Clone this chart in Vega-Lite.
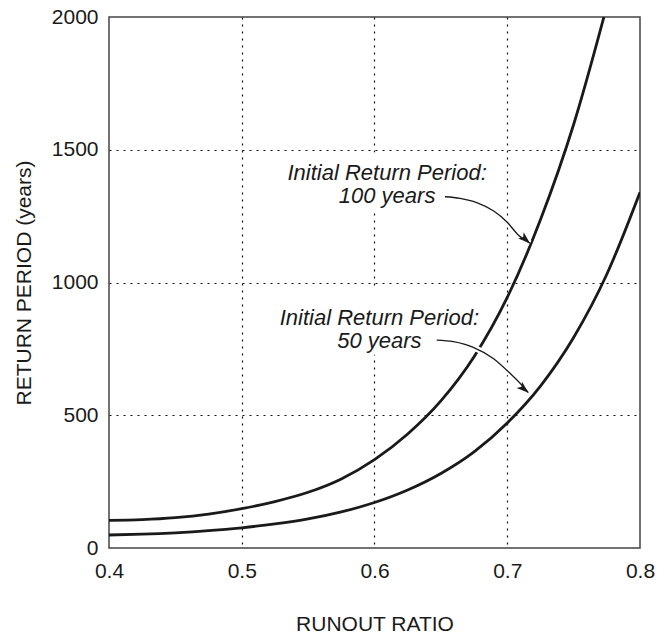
{
  "$schema": "https://vega.github.io/schema/vega-lite/v6.json",
  "width": 531,
  "height": 531,
  "autosize": {"type": "none"},
  "padding": {"left": 109, "top": 17, "right": 28, "bottom": 87},
  "background": "white",
  "config": {
    "view": {"stroke": "#444", "strokeWidth": 1.5},
    "font": "Liberation Sans",
    "axis": {
      "domain": false,
      "ticks": false,
      "grid": true,
      "gridColor": "#111",
      "gridDash": [2, 5],
      "gridWidth": 1.2,
      "labelFont": "Liberation Sans",
      "labelFontSize": 21,
      "labelColor": "#1a1a1a",
      "titleFont": "Liberation Sans",
      "titleFontSize": 21,
      "titleFontWeight": "normal",
      "titleColor": "#1a1a1a"
    }
  },
  "datasets": {
    "curves": [
      {"x": 0.400, "y": 104, "series": "100"},
      {"x": 0.425, "y": 106.6, "series": "100"},
      {"x": 0.450, "y": 114.1, "series": "100"},
      {"x": 0.475, "y": 127.7, "series": "100"},
      {"x": 0.500, "y": 148.2, "series": "100"},
      {"x": 0.525, "y": 174.9, "series": "100"},
      {"x": 0.550, "y": 209.8, "series": "100"},
      {"x": 0.575, "y": 260.2, "series": "100"},
      {"x": 0.600, "y": 333, "series": "100"},
      {"x": 0.625, "y": 429.6, "series": "100"},
      {"x": 0.650, "y": 554.2, "series": "100"},
      {"x": 0.675, "y": 720.5, "series": "100"},
      {"x": 0.700, "y": 943.8, "series": "100"},
      {"x": 0.725, "y": 1236, "series": "100"},
      {"x": 0.750, "y": 1595, "series": "100"},
      {"x": 0.775, "y": 2041, "series": "100"},
      {"x": 0.400, "y": 49, "series": "50"},
      {"x": 0.425, "y": 51.9, "series": "50"},
      {"x": 0.450, "y": 57.1, "series": "50"},
      {"x": 0.475, "y": 65.1, "series": "50"},
      {"x": 0.500, "y": 76.2, "series": "50"},
      {"x": 0.525, "y": 90.7, "series": "50"},
      {"x": 0.550, "y": 109.7, "series": "50"},
      {"x": 0.575, "y": 136.1, "series": "50"},
      {"x": 0.600, "y": 171.4, "series": "50"},
      {"x": 0.625, "y": 218.6, "series": "50"},
      {"x": 0.650, "y": 280.9, "series": "50"},
      {"x": 0.675, "y": 362.3, "series": "50"},
      {"x": 0.700, "y": 471, "series": "50"},
      {"x": 0.725, "y": 610, "series": "50"},
      {"x": 0.750, "y": 793, "series": "50"},
      {"x": 0.775, "y": 1031, "series": "50"},
      {"x": 0.800, "y": 1340, "series": "50"}
    ],
    "boxes": [
      {"x": 0.531, "x2": 0.691, "y": 1266, "y2": 1490},
      {"x": 0.526, "x2": 0.684, "y": 728, "y2": 985}
    ],
    "arrows": [
      {"x": 0.6531, "y": 1323, "arrow": 1},
      {"x": 0.6644, "y": 1317, "arrow": 1},
      {"x": 0.6770, "y": 1301, "arrow": 1},
      {"x": 0.6895, "y": 1270, "arrow": 1},
      {"x": 0.6996, "y": 1229, "arrow": 1},
      {"x": 0.7083, "y": 1179, "arrow": 1},
      {"x": 0.7171, "y": 1148, "arrow": 1},
      {"x": 0.6469, "y": 783, "arrow": 2},
      {"x": 0.6594, "y": 777, "arrow": 2},
      {"x": 0.6744, "y": 756, "arrow": 2},
      {"x": 0.6895, "y": 714, "arrow": 2},
      {"x": 0.7021, "y": 658, "arrow": 2},
      {"x": 0.7109, "y": 614, "arrow": 2},
      {"x": 0.7159, "y": 585, "arrow": 2}
    ],
    "heads": [
      {"x": 0.7171, "y": 1148, "arrow": 1},
      {"x": 0.7159, "y": 585, "arrow": 2}
    ],
    "labels": [
      {"x": 0.6095, "y": 1385, "text": "Initial Return Period:\n100 years"},
      {"x": 0.6037, "y": 839, "text": "Initial Return Period:\n50 years"}
    ]
  },
  "encoding": {
    "x": {
      "field": "x",
      "type": "quantitative",
      "scale": {"domain": [0.4, 0.8], "nice": false, "zero": false},
      "axis": {
        "title": "RUNOUT RATIO",
        "values": [0.4, 0.5, 0.6, 0.7, 0.8],
        "format": ".1f",
        "labelPadding": 12,
        "labelFlush": false,
        "titlePadding": 32,
        "gridOpacity": {"condition": {"test": "datum.value <= 0.4 || datum.value >= 0.8", "value": 0}, "value": 1}
      }
    },
    "y": {
      "field": "y",
      "type": "quantitative",
      "scale": {"domain": [0, 2000], "nice": false},
      "axis": {
        "title": "RETURN PERIOD (years)",
        "values": [0, 500, 1000, 1500, 2000],
        "format": "d",
        "labelPadding": 11,
        "titlePadding": 17,
        "gridOpacity": {"condition": {"test": "datum.value <= 0 || datum.value >= 2000", "value": 0}, "value": 1}
      }
    }
  },
  "layer": [
    {
      "data": {"name": "boxes"},
      "mark": {"type": "rect", "fill": "white", "strokeWidth": 0},
      "encoding": {"x2": {"field": "x2"}, "y2": {"field": "y2"}}
    },
    {
      "data": {"name": "curves"},
      "mark": {"type": "line", "color": "#1a1a1a", "strokeWidth": 2.8, "interpolate": "monotone", "clip": true},
      "encoding": {"detail": {"field": "series"}}
    },
    {
      "data": {"name": "arrows"},
      "mark": {"type": "line", "color": "white", "strokeWidth": 6, "interpolate": "monotone"},
      "encoding": {"detail": {"field": "arrow"}}
    },
    {
      "data": {"name": "arrows"},
      "mark": {"type": "line", "color": "#1a1a1a", "strokeWidth": 1.3, "interpolate": "monotone"},
      "encoding": {"detail": {"field": "arrow"}}
    },
    {
      "data": {"name": "heads"},
      "mark": {"type": "point", "shape": "M0,0L-2,-0.7L-1.5,0L-2,0.7Z", "size": 144, "filled": true, "fill": "#1a1a1a", "strokeWidth": 0, "opacity": 1, "angle": 41}
    },
    {
      "data": {"name": "labels"},
      "mark": {"type": "text", "font": "Liberation Sans", "fontStyle": "italic", "fontSize": 22, "align": "center", "baseline": "alphabetic", "lineBreak": "\n", "lineHeight": 23, "color": "#1a1a1a"},
      "encoding": {"text": {"field": "text"}}
    }
  ]
}
